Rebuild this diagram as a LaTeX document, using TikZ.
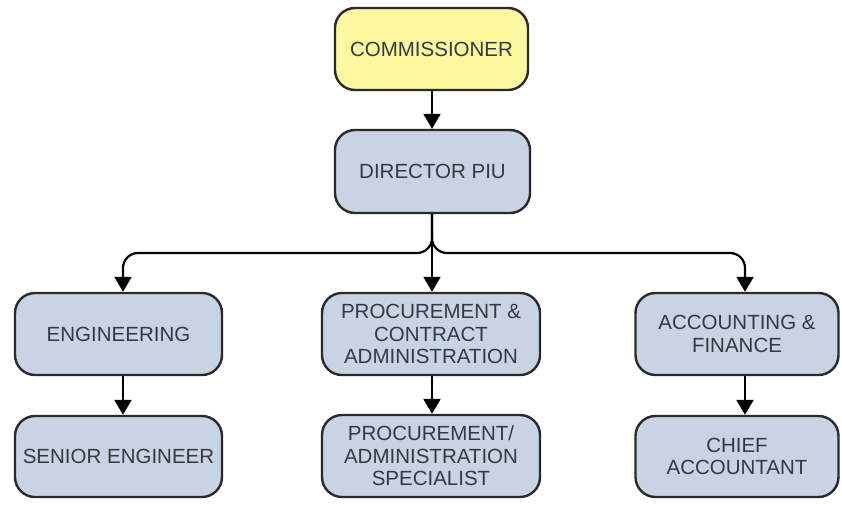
\documentclass[tikz,border=0pt]{standalone}
\usepackage{fontspec}
\setmainfont{Liberation Sans}
\usetikzlibrary{arrows.meta}
\definecolor{boxblue}{HTML}{C8D4E4}
\definecolor{boxyellow}{HTML}{FBF8A0}
\definecolor{edge}{HTML}{2A2A2A}
\definecolor{txt}{HTML}{353A42}
\tikzset{
  orgbox/.style={draw=edge, line width=2.4pt, rounded corners=20pt, fill=boxblue,
    text=txt, align=center, inner sep=0pt,
    font=\fontsize{20.5}{22.5}\selectfont},
  conn/.style={draw=black, line width=2.2pt, -{Triangle[width=17pt,length=15pt]}}
}
\begin{document}
\begin{tikzpicture}[x=1pt,y=-1pt]
\useasboundingbox (0,0) rectangle (842,504);
\node[orgbox, fill=boxyellow, minimum width=193pt, minimum height=82pt] (comm) at (431.5,49) {COMMISSIONER};
\node[orgbox, minimum width=195pt, minimum height=83pt] (dir) at (432.5,171.5) {DIRECTOR PIU};
\node[orgbox, minimum width=207pt, minimum height=82pt] (eng) at (118.5,334) {ENGINEERING};
\node[orgbox, minimum width=218pt, minimum height=82pt] (proc) at (431,334) {PROCUREMENT \&\\CONTRACT\\ADMINISTRATION};
\node[orgbox, minimum width=203pt, minimum height=82pt] (acc) at (737,334) {ACCOUNTING \&\\FINANCE};
\node[orgbox, minimum width=207pt, minimum height=81pt] (sen) at (118.5,456.5) {SENIOR ENGINEER};
\node[orgbox, minimum width=218pt, minimum height=82pt] (pspec) at (431,456) {PROCUREMENT/\\ADMINISTRATION\\SPECIALIST};
\node[orgbox, minimum width=203pt, minimum height=81pt] (chief) at (737,456.5) {CHIEF\\ACCOUNTANT};
\coordinate (j) at (432,253);
\draw[conn] (comm.south -| j) -- (dir.north -| j);
\draw[conn] (dir.south -| j) -- (proc.north -| j);
\draw[conn, rounded corners=15pt] (dir.south -| j) -- (j) -| ([xshift=4.5pt]eng.north);
\draw[conn, rounded corners=15pt] (dir.south -| j) -- (j) -| ([xshift=8pt]acc.north);
\draw[conn] ([xshift=4.5pt]eng.south) -- ([xshift=4.5pt]sen.north);
\draw[conn] (proc.south -| j) -- (pspec.north -| j);
\draw[conn] ([xshift=8pt]acc.south) -- ([xshift=8pt]chief.north);
\end{tikzpicture}
\end{document}
